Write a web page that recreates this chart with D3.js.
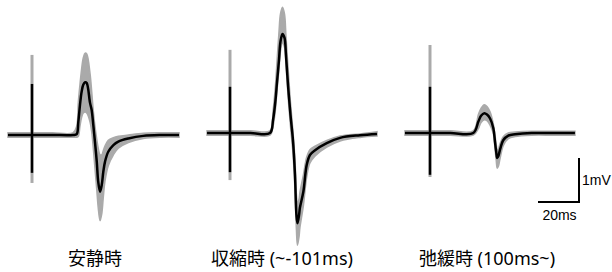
<!DOCTYPE html>
<html>
<head>
<meta charset="utf-8">
<script src="https://cdn.jsdelivr.net/npm/d3@7"></script>
<style>
  html, body { margin: 0; padding: 0; background: #fff; }
  svg { display: block; }
</style>
</head>
<body>
<svg id="chart" width="612" height="272"></svg>
<script>
// ---------------- DATA ----------------
const panelLabels = ["安静時", "収縮時 (~-101ms)", "弛緩時 (100ms~)"];

// Panel 1 (安静時): time (ms from stimulus), mean / max / min (mV)
const rest_t     = [-11.7, 0, 10, 20, 21.8, 22.6, 23.4, 24.2, 25.0, 25.9, 26.7, 28.3, 29.1, 29.9, 30.7, 31.6, 32.3, 33.2, 34.0, 34.8, 35.6, 37.2, 39.7, 42.1, 47.0, 54.3, 63.0, 71.7];
const rest_mean  = [0, 0, 0, 0, 0.02, 0.30, 0.68, 0.98, 1.14, 1.20, 1.18, 0.73, 0.57, 0.23, -0.15, -0.61, -1.06, -1.29, -1.14, -0.83, -0.61, -0.38, -0.23, -0.15, -0.08, -0.02, 0, 0];
const rest_upper = [0.05, 0.05, 0.05, 0.05, 0.20, 0.75, 1.15, 1.50, 1.75, 1.86, 1.84, 1.40, 1.00, 0.55, 0.20, -0.10, -0.30, -0.45, -0.45, -0.35, -0.25, -0.12, -0.06, -0.03, 0.0, 0.04, 0.05, 0.05];
const rest_lower = [-0.05, -0.05, -0.05, -0.05, -0.05, -0.03, 0.20, 0.40, 0.50, 0.52, 0.50, 0.30, 0.08, -0.30, -0.75, -1.25, -1.65, -1.95, -1.80, -1.40, -1.05, -0.70, -0.45, -0.30, -0.17, -0.08, -0.05, -0.05];
const rest_stim  = [1.82, -1.09, 1.16, -0.86]; // gray top, gray bottom, black top, black bottom

// Panel 2 (収縮時)
const con_t     = [-11.2, 0, 10, 19.5, 21.0, 22.2, 22.9, 23.9, 24.6, 25.6, 26.6, 27.3, 28.3, 29.5, 30.7, 31.7, 32.4, 32.9, 33.7, 34.1, 35.8, 37.4, 39.0, 41.5, 47.2, 53.7, 63.4, 71.7];
const con_mean  = [0, 0, 0, 0, 0.30, 0.75, 1.14, 1.66, 2.07, 2.25, 2.16, 1.77, 1.09, 0.41, -0.16, -0.95, -1.86, -2.05, -1.86, -1.70, -1.33, -0.73, -0.50, -0.39, -0.23, -0.11, -0.05, -0.02];
const con_upper = [0.05, 0.05, 0.05, 0.05, 0.50, 1.10, 1.60, 2.30, 2.70, 2.86, 2.70, 2.20, 1.50, 0.70, 0.05, -0.60, -1.40, -1.60, -1.50, -1.35, -0.95, -0.55, -0.38, -0.30, -0.17, -0.07, -0.02, 0.03];
const con_lower = [-0.05, -0.05, -0.05, -0.05, 0.15, 0.55, 0.95, 1.45, 1.85, 2.05, 1.95, 1.55, 0.85, 0.15, -0.45, -1.30, -2.20, -2.55, -2.35, -2.15, -1.65, -1.00, -0.68, -0.52, -0.32, -0.18, -0.10, -0.07];
const con_stim  = [1.89, -1.07, 1.05, -0.89];

// Panel 3 (弛緩時)
const rel_t     = [-12.2, 0, 10, 21.1, 23.6, 24.9, 26.5, 27.8, 29.3, 30.9, 31.7, 32.3, 32.8, 33.4, 34.1, 35.8, 38.2, 41.5, 49.6, 60.0, 70.7];
const rel_mean  = [0, 0, 0, 0, 0.26, 0.39, 0.45, 0.42, 0.33, 0.11, -0.20, -0.43, -0.57, -0.52, -0.39, -0.16, -0.06, -0.03, 0, 0, 0];
const rel_upper = [0.05, 0.05, 0.05, 0.05, 0.42, 0.56, 0.64, 0.60, 0.48, 0.20, -0.05, -0.25, -0.38, -0.36, -0.25, -0.08, 0.0, 0.02, 0.04, 0.04, 0.04];
const rel_lower = [-0.05, -0.05, -0.05, -0.05, 0.10, 0.24, 0.30, 0.28, 0.18, -0.02, -0.35, -0.62, -0.80, -0.75, -0.60, -0.28, -0.13, -0.08, -0.05, -0.05, -0.05];
const rel_stim  = [2.0, -1.0, 1.05, -0.95];

// Scale bar values
const scaleBarMs = 20;
const scaleBarMv = 1;
const scaleBarLabels = ["1mV", "20ms"];

// ---------------- LAYOUT ----------------
const pxPerMs = 2.05;
const pxPerMv = 44;
const panelStimX = [32, 230, 430];
const panelBaseY = [135, 133, 133];
const labelCenterX = [95, 282, 487];
const labelY = 265;
const grayCol = "#aaaaaa";

const panels = [
  { t: rest_t, mean: rest_mean, up: rest_upper, lo: rest_lower, stim: rest_stim },
  { t: con_t,  mean: con_mean,  up: con_upper,  lo: con_lower,  stim: con_stim },
  { t: rel_t,  mean: rel_mean,  up: rel_upper,  lo: rel_lower,  stim: rel_stim }
];

const svg = d3.select("#chart");
const scales = [];

panels.forEach((p, i) => {
  const x = d3.scaleLinear().domain([0, 1]).range([panelStimX[i], panelStimX[i] + pxPerMs]);
  const y = d3.scaleLinear().domain([0, 1]).range([panelBaseY[i], panelBaseY[i] - pxPerMv]);
  scales.push({ x, y });
  const g = svg.append("g");
  const rows = p.t.map((t, k) => ({ t, m: p.mean[k], u: p.up[k], l: p.lo[k] }));

  g.append("line")
    .attr("x1", x(0)).attr("x2", x(0))
    .attr("y1", y(p.stim[0])).attr("y2", y(p.stim[1]))
    .attr("stroke", grayCol).attr("stroke-width", 3);

  g.append("path").datum(rows)
    .attr("d", d3.area().x(d => x(d.t)).y0(d => y(d.l)).y1(d => y(d.u)).curve(d3.curveCatmullRom.alpha(0.5)))
    .attr("fill", grayCol).attr("stroke", grayCol).attr("stroke-width", 1.5);

  g.append("line")
    .attr("x1", x(0)).attr("x2", x(0))
    .attr("y1", y(p.stim[2])).attr("y2", y(p.stim[3]))
    .attr("stroke", "#000").attr("stroke-width", 2.5);

  g.append("path").datum(rows)
    .attr("d", d3.line().x(d => x(d.t)).y(d => y(d.m)).curve(d3.curveCatmullRom.alpha(0.5)))
    .attr("fill", "none").attr("stroke", "#000").attr("stroke-width", 2.5)
    .attr("stroke-linejoin", "round");

  svg.append("text")
    .attr("x", labelCenterX[i]).attr("y", labelY)
    .attr("text-anchor", "middle")
    .attr("font-family", "'Noto Sans', 'Noto Sans CJK JP', sans-serif")
    .attr("font-size", 18)
    .attr("fill", "#000")
    .text(panelLabels[i]);
});

// scale bar (lengths from panel 3 scales)
const sx = scales[2].x, sy = scales[2].y;
const cornerX = 579, cornerY = 202;
const barW = sx(scaleBarMs) - sx(0);
const barH = sy(0) - sy(scaleBarMv);
const sb = svg.append("g");
sb.append("path")
  .attr("d", `M${cornerX - barW},${cornerY}H${cornerX}V${cornerY - barH}`)
  .attr("fill", "none").attr("stroke", "#000").attr("stroke-width", 2);
sb.append("text")
  .attr("x", cornerX + 3).attr("y", cornerY - barH / 2 + 5)
  .attr("font-family", "'Liberation Sans', Arial, sans-serif")
  .attr("font-size", 14).text(scaleBarLabels[0]);
sb.append("text")
  .attr("x", cornerX - barW / 2 + 1).attr("y", cornerY + 18)
  .attr("text-anchor", "middle")
  .attr("font-family", "'Liberation Sans', Arial, sans-serif")
  .attr("font-size", 14).text(scaleBarLabels[1]);
</script>
</body>
</html>
